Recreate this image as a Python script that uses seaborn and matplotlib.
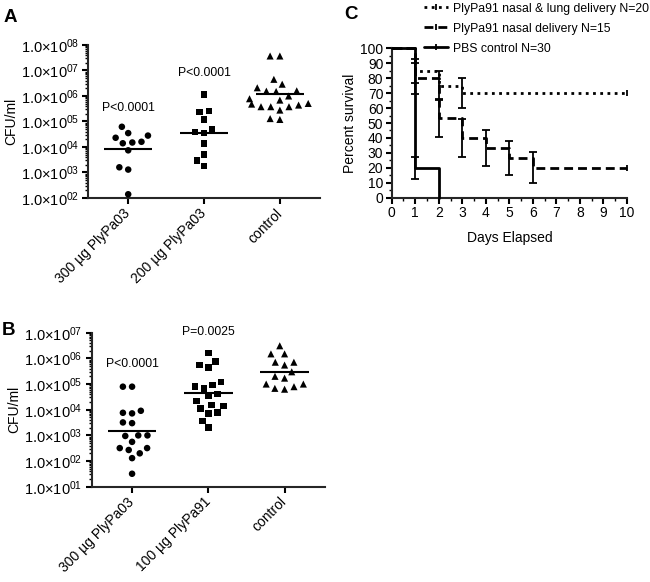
import numpy as np
import pandas as pd
import matplotlib
matplotlib.use("Agg")
import matplotlib.pyplot as plt
import seaborn as sns
from matplotlib.lines import Line2D
from matplotlib.ticker import LogLocator, NullFormatter, FuncFormatter, MultipleLocator

# ---------------- Panel A data (CFU/ml) ----------------
a_groups = ["300 µg PlyPa03", "200 µg PlyPa03", "control"]
a_300 = [6.2e4, 2.8e4, 2.3e4, 3.5e4, 1.5e4, 1.4e4, 1.6e4, 7.4e3, 1.6e3, 1.3e3, 1.4e2]
a_200 = [1.15e6, 2.6e5, 2.4e5, 1.2e5, 3.9e4, 3.5e4, 5.0e4, 1.4e4, 5.1e3, 3.0e3, 1.8e3]
a_ctrl = [3.7e7, 3.7e7, 4.5e6, 2.9e6, 2.1e6, 1.55e6, 1.6e6, 1.5e6, 1.0e6, 6.9e5,
          7.8e5, 4.8e5, 3.8e5, 5.1e5, 3.8e5, 3.8e5, 4.4e5, 2.8e5, 1.2e5, 1.3e5]
a_means = [8.1e3, 3.7e4, 1.15e6]
a_ptext = ["P<0.0001", "P<0.0001"]
a_ptext_y = [3.3e5, 8.1e6]

# ---------------- Panel B data (CFU/ml) ----------------
b_groups = ["300 µg PlyPa03", "100 µg PlyPa91", "control"]
b_300 = [7.9e4, 7.9e4, 7.6e3, 7.2e3, 9.1e3, 3.0e3, 3.2e3, 1.0e3, 9.5e2, 1.0e3,
         5.6e2, 3.2e2, 3.2e2, 2.7e2, 2.0e2, 1.3e2, 3.2e1]
b_100 = [1.6e6, 7.4e5, 5.5e5, 4.5e5, 1.2e5, 7.9e4, 6.8e4, 9.1e4, 4.1e4, 3.4e4,
         2.2e4, 1.4e4, 1.5e4, 1.1e4, 7.9e3, 7.2e3, 3.7e3, 2.0e3]
b_ctrl = [3.1e6, 1.5e6, 1.5e6, 7.1e5, 7.1e5, 5.5e5, 2.0e5, 3.0e5, 1.7e5, 1.0e5,
          7.9e4, 6.3e4, 6.8e4, 1.0e5]
b_means = [1.5e3, 4.4e4, 3.0e5]
b_ptext = ["P<0.0001", "P=0.0025"]
b_ptext_y = [6.0e5, 1.1e7]

# ---------------- Panel C data (percent survival) ----------------
c_labels = ["PlyPa91 nasal & lung delivery N=20",
            "PlyPa91 nasal delivery N=15",
            "PBS control N=30"]
lung_days = [0, 1, 2, 3, 10]
lung_surv = [100, 85, 75, 70, 70]
lung_err_days = [1, 2, 3]
lung_err_vals = [85, 75, 70]
lung_err = [8.0, 9.7, 10.2]

nasal_days = [0, 1, 2, 3, 4, 5, 6, 10]
nasal_surv = [100, 80, 53.3, 40, 33.3, 26.7, 20, 20]
nasal_err_days = [1, 2, 3, 4, 5, 6]
nasal_err_vals = [80, 53.3, 40, 33.3, 26.7, 20]
nasal_err = [10.3, 12.9, 12.6, 12.2, 11.4, 10.3]

pbs_days = [0, 1, 2]
pbs_surv = [100, 20, 0]
pbs_err_days = [1]
pbs_err_vals = [20]
pbs_err = [7.3]

# ---------------- Style ----------------
sns.set_theme(style="ticks")
plt.rcParams["font.family"] = ["Liberation Sans", "DejaVu Sans"]
plt.rcParams["mathtext.fontset"] = "custom"
plt.rcParams["mathtext.rm"] = "Liberation Sans"
plt.rcParams["mathtext.it"] = "Liberation Sans:italic"
plt.rcParams["mathtext.bf"] = "Liberation Sans:bold"
plt.rcParams["axes.linewidth"] = 1.5
plt.rcParams["text.color"] = "black"
plt.rcParams["axes.labelcolor"] = "black"
plt.rcParams["xtick.color"] = "black"
plt.rcParams["ytick.color"] = "black"

fig = plt.figure(figsize=(6.5, 5.82), dpi=100)
axA = fig.add_axes([0.1354, 0.6598, 0.357, 0.2629])
axB = fig.add_axes([0.141, 0.1637, 0.359, 0.2646])
axC = fig.add_axes([0.6026, 0.6603, 0.362, 0.2567])

markers = ["o", "s", "^"]


def sci_fmt(v, pos):
    e = int(round(np.log10(v)))
    return r"1.0×10$^{\mathregular{%02d}}$" % e


def scatter_panel(ax, groups, series, means, ptext, ptext_y, ylim):
    df = pd.concat([pd.DataFrame({"group": g, "cfu": vals}) for g, vals in zip(groups, series)],
                   ignore_index=True)
    for g, m in zip(groups, markers):
        sub = df[df["group"] == g]
        # invisible edge widens the swarm spacing (Prism-like spread)
        sns.swarmplot(data=sub, x="group", y="cfu", order=groups, marker=m,
                      color="black", size=4.7 if m != "^" else 5.1,
                      linewidth=1.6, edgecolor="none",
                      log_scale=(False, True), ax=ax)
    pos = np.arange(len(groups))
    ax.hlines(means, pos - 0.32, pos + 0.32, color="black", lw=1.5, zorder=5)
    for i, (t, y) in enumerate(zip(ptext, ptext_y)):
        ax.text(i, y, t, ha="center", va="center", fontsize=8.8)
    ax.set_yscale("log")
    ax.set_ylim(*ylim)
    ax.set_xlim(-0.53, 2.53)
    ax.yaxis.set_major_locator(LogLocator(base=10, numticks=20))
    ax.yaxis.set_minor_locator(LogLocator(base=10, subs=np.arange(2, 10), numticks=20))
    ax.yaxis.set_major_formatter(FuncFormatter(sci_fmt))
    ax.yaxis.set_minor_formatter(NullFormatter())
    ax.set_xticks(pos)
    ax.set_xticklabels(groups, rotation=45, ha="right", va="center",
                       rotation_mode="anchor", fontsize=10)
    ax.tick_params(axis="y", which="major", length=4.5, width=1.5, labelsize=10.5, pad=2)
    ax.tick_params(axis="y", which="minor", length=2.5, width=1.0)
    ax.tick_params(axis="x", which="major", length=4.5, width=1.5, pad=5)
    ax.set_xlabel("")
    ax.set_ylabel("CFU/ml", fontsize=10, labelpad=2)
    sns.despine(ax=ax)


scatter_panel(axA, a_groups, [a_300, a_200, a_ctrl], a_means, a_ptext, a_ptext_y, (1e2, 1e8))
scatter_panel(axB, b_groups, [b_300, b_100, b_ctrl], b_means, b_ptext, b_ptext_y, (1e1, 1e7))

# ---------------- Panel C ----------------
styles = [(0, (1, 1.6)), (0, (3.2, 1.8)), "-"]
curves = [(lung_days, lung_surv), (nasal_days, nasal_surv), (pbs_days, pbs_surv)]
errs = [(lung_err_days, lung_err_vals, lung_err),
        (nasal_err_days, nasal_err_vals, nasal_err),
        (pbs_err_days, pbs_err_vals, pbs_err)]
for (d, s), ls in zip(curves, styles):
    sns.lineplot(x=d, y=s, drawstyle="steps-post", color="black", lw=2.0,
                 linestyle=ls, estimator=None, ax=axC, clip_on=False, zorder=3)
for (d, v, e) in errs:
    axC.errorbar(d, v, yerr=e, fmt="none", ecolor="black", elinewidth=1.3,
                 capsize=3, capthick=1.3, zorder=4, clip_on=False)
# censoring ticks at end of follow-up
axC.plot([lung_days[-1], nasal_days[-1]], [lung_surv[-1], nasal_surv[-1]], ls="none",
         marker="|", ms=4, mew=1.3, color="black", clip_on=False, zorder=4)

axC.set_xlim(0, 10)
axC.set_ylim(0, 100)
axC.xaxis.set_major_locator(MultipleLocator(1))
axC.xaxis.set_minor_locator(MultipleLocator(0.5))
axC.yaxis.set_major_locator(MultipleLocator(10))
axC.yaxis.set_minor_locator(MultipleLocator(5))
axC.tick_params(which="major", length=4, width=1.5, labelsize=10, pad=2)
axC.tick_params(which="minor", length=2.5, width=1.0)
axC.set_xlabel("Days Elapsed", fontsize=10, labelpad=8)
axC.set_ylabel("Percent survival", fontsize=10, labelpad=2)
sns.despine(ax=axC)

handles = [Line2D([], [], color="black", lw=2.0, linestyle=ls, marker="|", ms=4, mew=1.3)
           for ls in styles]
fig.legend(handles, c_labels, loc="upper left", bbox_to_anchor=(0.652, 0.9955),
           frameon=False, fontsize=8.8, handlelength=2.0, handletextpad=0.4,
           labelspacing=0.65, borderpad=0, borderaxespad=0)

# panel letters
fig.text(0.005, 0.985, "A", fontsize=13.5, fontweight="bold", va="top", ha="left")
fig.text(0.003, 0.447, "B", fontsize=13.5, fontweight="bold", va="top", ha="left")
fig.text(0.530, 0.990, "C", fontsize=13.5, fontweight="bold", va="top", ha="left")

fig.savefig("out.png", dpi=100)
